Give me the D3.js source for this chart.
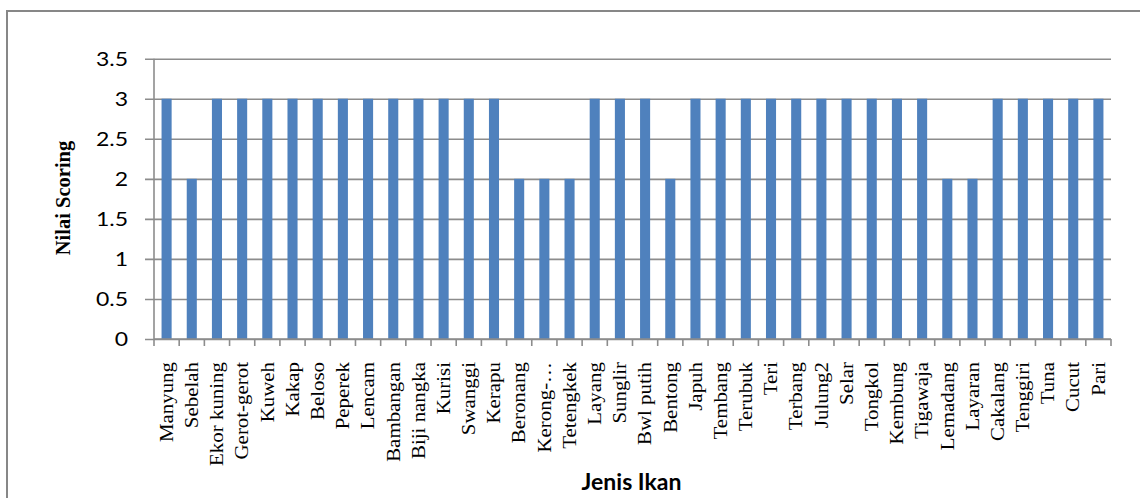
<!DOCTYPE html>
<html>
<head>
<meta charset="utf-8">
<script src="https://cdn.jsdelivr.net/npm/d3@7"></script>
<style>
  html, body { margin: 0; padding: 0; background: #fff; }
  svg { display: block; }
</style>
</head>
<body>
<svg id="chart" width="1140" height="498"></svg>
<script>
// Fish species (Jenis Ikan) and their scoring values
const categories = [
  "Manyung", "Sebelah", "Ekor kuning", "Gerot-gerot", "Kuweh", "Kakap",
  "Beloso", "Peperek", "Lencam", "Bambangan", "Biji nangka", "Kurisi",
  "Swanggi", "Kerapu", "Beronang", "Kerong-…", "Tetengkek", "Layang",
  "Sunglir", "Bwl putih", "Bentong", "Japuh", "Tembang", "Terubuk",
  "Teri", "Terbang", "Julung2", "Selar", "Tongkol", "Kembung",
  "Tigawaja", "Lemadang", "Layaran", "Cakalang", "Tenggiri", "Tuna",
  "Cucut", "Pari"
];
const scores = [
  3, 2, 3, 3, 3, 3,
  3, 3, 3, 3, 3, 3,
  3, 3, 2, 2, 2, 3,
  3, 3, 2, 3, 3, 3,
  3, 3, 3, 3, 3, 3,
  3, 2, 2, 3, 3, 3,
  3, 3
];
const yTicks = [0, 0.5, 1, 1.5, 2, 2.5, 3, 3.5];

const svg = d3.select("#chart");
const plot = { left: 154, right: 1111, top: 58.7, bottom: 339 };
const gridColor = "#8c8c8c";
const barColor = "#4f81bd";

// outer chart frame
svg.append("rect")
  .attr("x", 7).attr("y", 11)
  .attr("width", 1200).attr("height", 600)
  .attr("fill", "none").attr("stroke", "#878787").attr("stroke-width", 2);

const x = d3.scaleBand()
  .domain(categories)
  .range([plot.left, plot.right])
  .paddingInner(0.6)
  .paddingOuter(0.3);

const y = d3.scaleLinear().domain([0, 3.5]).range([plot.bottom, plot.top]);

// horizontal gridlines (with short outer ticks) via the y axis
const yAxis = d3.axisLeft(y)
  .tickValues(yTicks)
  .tickFormat("")
  .tickSize(-(plot.right - plot.left));

const gy = svg.append("g")
  .attr("transform", `translate(${plot.left},0)`)
  .call(yAxis);
gy.select(".domain").remove();
gy.selectAll(".tick line")
  .attr("x1", -9)
  .attr("stroke", gridColor).attr("stroke-width", 1.6);

// y tick labels, slightly widened
svg.append("g")
  .selectAll("text")
  .data(yTicks)
  .join("text")
  .attr("transform", d => `translate(128,${y(d)}) scale(1.15,1)`)
  .attr("text-anchor", "end")
  .attr("dy", "0.36em")
  .attr("fill", "#000")
  .style("font-family", "Lato, 'Open Sans', sans-serif")
  .style("font-size", "20px")
  .text(d => String(d));

// bars
svg.append("g")
  .selectAll("rect")
  .data(categories)
  .join("rect")
  .attr("x", d => x(d))
  .attr("width", x.bandwidth())
  .attr("y", (d, i) => y(scores[i]))
  .attr("height", (d, i) => y(0) - y(scores[i]))
  .attr("fill", barColor);

// y axis line
svg.append("line")
  .attr("x1", plot.left).attr("x2", plot.left)
  .attr("y1", plot.top).attr("y2", plot.bottom)
  .attr("stroke", gridColor).attr("stroke-width", 1.6);

// x axis line and category boundary ticks
const step = x.step();
const boundaries = d3.range(categories.length + 1).map(i => plot.left + i * step);
const gx = svg.append("g");
gx.append("line")
  .attr("x1", plot.left).attr("x2", plot.right)
  .attr("y1", plot.bottom).attr("y2", plot.bottom)
  .attr("stroke", gridColor).attr("stroke-width", 1.6);
gx.selectAll("line.bt")
  .data(boundaries)
  .join("line")
  .attr("class", "bt")
  .attr("x1", d => d).attr("x2", d => d)
  .attr("y1", plot.bottom).attr("y2", plot.bottom + 7)
  .attr("stroke", gridColor).attr("stroke-width", 1.6);

// rotated category labels
svg.append("g")
  .selectAll("text")
  .data(categories)
  .join("text")
  .attr("transform", d => `translate(${x(d) + x.bandwidth() / 2},362) rotate(-90) scale(1.1,1)`)
  .attr("text-anchor", "end")
  .attr("dy", "0.33em")
  .style("font-family", "'Liberation Serif', 'Times New Roman', serif")
  .style("font-size", "19px")
  .attr("fill", "#000")
  .text(d => d);

// axis titles
svg.append("text")
  .attr("transform", "translate(70,198) rotate(-90)")
  .attr("text-anchor", "middle")
  .style("font-family", "'Liberation Serif', 'Times New Roman', serif")
  .style("font-weight", "bold")
  .style("font-size", "20.5px")
  .attr("fill", "#000")
  .text("Nilai Scoring");

svg.append("text")
  .attr("x", 631.5).attr("y", 490)
  .attr("text-anchor", "middle")
  .style("font-family", "Lato, 'Open Sans', sans-serif")
  .style("font-weight", "bold")
  .style("font-size", "23px")
  .attr("fill", "#000")
  .text("Jenis Ikan");
</script>
</body>
</html>
